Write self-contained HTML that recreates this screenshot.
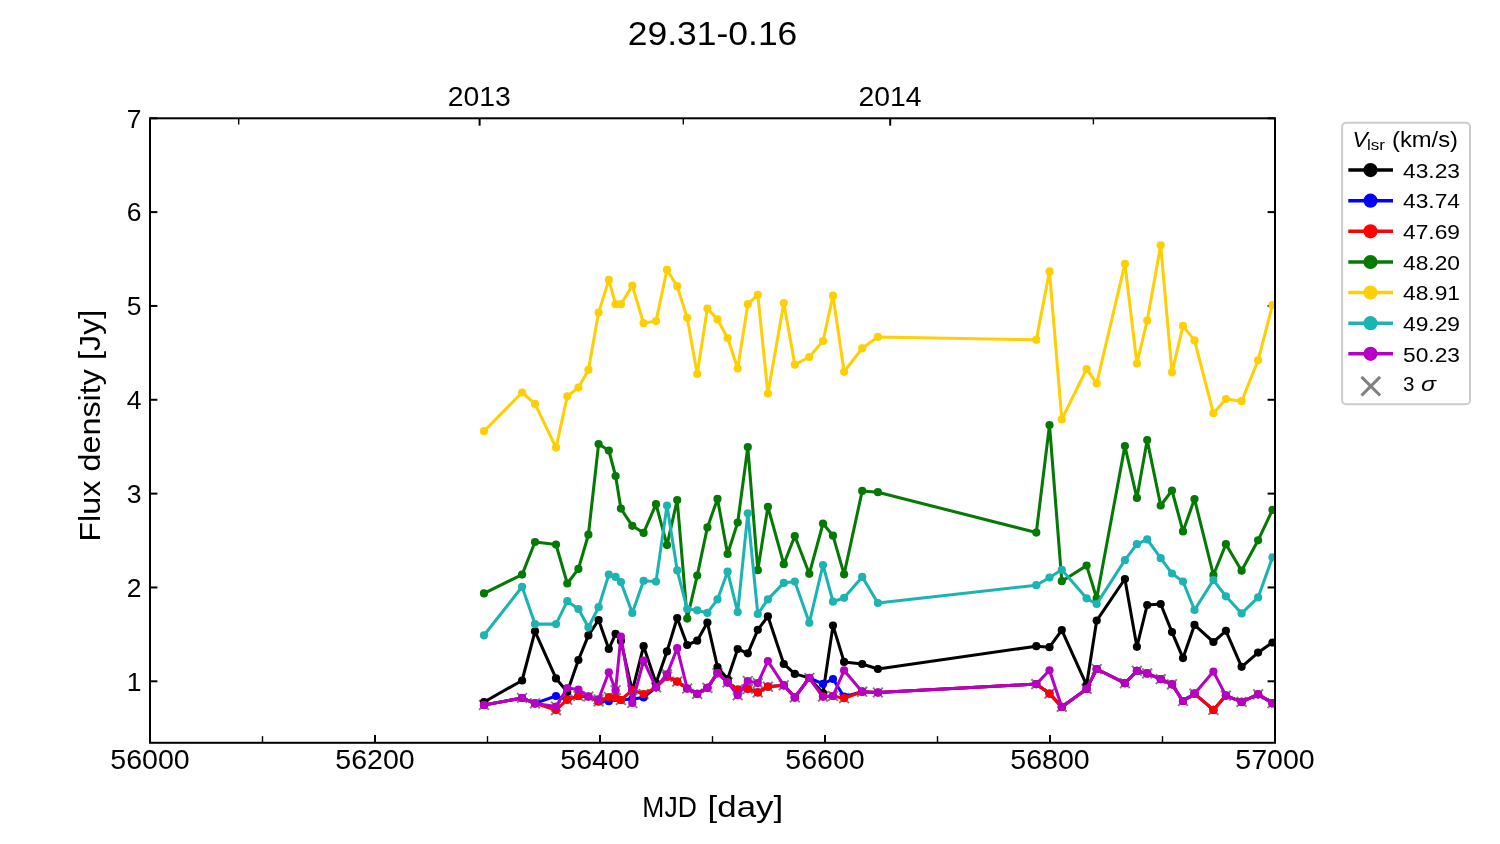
<!DOCTYPE html>
<html><head><meta charset="utf-8"><style>
html,body{margin:0;padding:0;background:#fff;}
svg{display:block;will-change:transform;}
</style></head><body>
<svg width="1500" height="844" viewBox="0 0 1500 844">
<rect x="0" y="0" width="1500" height="844" fill="#fff"/>
<defs><clipPath id="ax"><rect x="150" y="118.3" width="1125" height="624.5"/></clipPath></defs>
<line x1="150.00" y1="742.8" x2="150.00" y2="734.9" stroke="#000" stroke-width="2.0"/><line x1="262.50" y1="742.8" x2="262.50" y2="736.0999999999999" stroke="#000" stroke-width="1.4"/><line x1="375.00" y1="742.8" x2="375.00" y2="734.9" stroke="#000" stroke-width="2.0"/><line x1="487.50" y1="742.8" x2="487.50" y2="736.0999999999999" stroke="#000" stroke-width="1.4"/><line x1="600.00" y1="742.8" x2="600.00" y2="734.9" stroke="#000" stroke-width="2.0"/><line x1="712.50" y1="742.8" x2="712.50" y2="736.0999999999999" stroke="#000" stroke-width="1.4"/><line x1="825.00" y1="742.8" x2="825.00" y2="734.9" stroke="#000" stroke-width="2.0"/><line x1="937.50" y1="742.8" x2="937.50" y2="736.0999999999999" stroke="#000" stroke-width="1.4"/><line x1="1050.00" y1="742.8" x2="1050.00" y2="734.9" stroke="#000" stroke-width="2.0"/><line x1="1162.50" y1="742.8" x2="1162.50" y2="736.0999999999999" stroke="#000" stroke-width="1.4"/><line x1="1275.00" y1="742.8" x2="1275.00" y2="734.9" stroke="#000" stroke-width="2.0"/><line x1="238.70" y1="118.3" x2="238.70" y2="124.39999999999999" stroke="#000" stroke-width="1.4"/><line x1="479.60" y1="118.3" x2="479.60" y2="125.7" stroke="#000" stroke-width="2.0"/><line x1="683.30" y1="118.3" x2="683.30" y2="124.39999999999999" stroke="#000" stroke-width="1.4"/><line x1="890.20" y1="118.3" x2="890.20" y2="125.7" stroke="#000" stroke-width="2.0"/><line x1="1093.40" y1="118.3" x2="1093.40" y2="124.39999999999999" stroke="#000" stroke-width="1.4"/><line x1="150" y1="681.30" x2="157.4" y2="681.30" stroke="#000" stroke-width="2.0"/><line x1="1275" y1="681.30" x2="1267.6" y2="681.30" stroke="#000" stroke-width="2.0"/><line x1="150" y1="587.46" x2="157.4" y2="587.46" stroke="#000" stroke-width="2.0"/><line x1="1275" y1="587.46" x2="1267.6" y2="587.46" stroke="#000" stroke-width="2.0"/><line x1="150" y1="493.62" x2="157.4" y2="493.62" stroke="#000" stroke-width="2.0"/><line x1="1275" y1="493.62" x2="1267.6" y2="493.62" stroke="#000" stroke-width="2.0"/><line x1="150" y1="399.78" x2="157.4" y2="399.78" stroke="#000" stroke-width="2.0"/><line x1="1275" y1="399.78" x2="1267.6" y2="399.78" stroke="#000" stroke-width="2.0"/><line x1="150" y1="305.94" x2="157.4" y2="305.94" stroke="#000" stroke-width="2.0"/><line x1="1275" y1="305.94" x2="1267.6" y2="305.94" stroke="#000" stroke-width="2.0"/><line x1="150" y1="212.10" x2="157.4" y2="212.10" stroke="#000" stroke-width="2.0"/><line x1="1275" y1="212.10" x2="1267.6" y2="212.10" stroke="#000" stroke-width="2.0"/><line x1="150" y1="118.26" x2="157.4" y2="118.26" stroke="#000" stroke-width="2.0"/><line x1="1275" y1="118.26" x2="1267.6" y2="118.26" stroke="#000" stroke-width="2.0"/>
<g clip-path="url(#ax)"><path d="M479.1,700.1L488.9,709.9M479.1,709.9L488.9,700.1" stroke="#808080" stroke-width="2.0" fill="none"/><path d="M517.2,693.1L527.0,702.9M517.2,702.9L527.0,693.1" stroke="#808080" stroke-width="2.0" fill="none"/><path d="M530.1,698.5L539.9,708.3M530.1,708.3L539.9,698.5" stroke="#808080" stroke-width="2.0" fill="none"/><path d="M551.1,701.6L560.9,711.4M551.1,711.4L560.9,701.6" stroke="#808080" stroke-width="2.0" fill="none"/><path d="M551.1,705.2L560.9,715.0M551.1,715.0L560.9,705.2" stroke="#808080" stroke-width="2.0" fill="none"/><path d="M562.4,694.8L572.2,704.6M562.4,704.6L572.2,694.8" stroke="#808080" stroke-width="2.0" fill="none"/><path d="M573.5,691.1L583.3,700.9M573.5,700.9L583.3,691.1" stroke="#808080" stroke-width="2.0" fill="none"/><path d="M583.5,691.6L593.3,701.4M583.5,701.4L593.3,691.6" stroke="#808080" stroke-width="2.0" fill="none"/><path d="M593.7,694.4L603.5,704.2M593.7,704.2L603.5,694.4" stroke="#808080" stroke-width="2.0" fill="none"/><path d="M593.7,696.6L603.5,706.4M593.7,706.4L603.5,696.6" stroke="#808080" stroke-width="2.0" fill="none"/><path d="M603.9,692.1L613.7,701.9M603.9,701.9L613.7,692.1" stroke="#808080" stroke-width="2.0" fill="none"/><path d="M610.7,685.4L620.5,695.2M610.7,695.2L620.5,685.4" stroke="#808080" stroke-width="2.0" fill="none"/><path d="M610.7,693.1L620.5,702.9M610.7,702.9L620.5,693.1" stroke="#808080" stroke-width="2.0" fill="none"/><path d="M616.0,695.1L625.8,704.9M616.0,704.9L625.8,695.1" stroke="#808080" stroke-width="2.0" fill="none"/><path d="M627.4,698.1L637.2,707.9M627.4,707.9L637.2,698.1" stroke="#808080" stroke-width="2.0" fill="none"/><path d="M627.4,685.1L637.2,694.9M627.4,694.9L637.2,685.1" stroke="#808080" stroke-width="2.0" fill="none"/><path d="M638.7,689.1L648.5,698.9M638.7,698.9L648.5,689.1" stroke="#808080" stroke-width="2.0" fill="none"/><path d="M651.1,682.4L660.9,692.2M651.1,692.2L660.9,682.4" stroke="#808080" stroke-width="2.0" fill="none"/><path d="M662.1,669.5L671.9,679.3M662.1,679.3L671.9,669.5" stroke="#808080" stroke-width="2.0" fill="none"/><path d="M662.1,671.8L671.9,681.6M662.1,681.6L671.9,671.8" stroke="#808080" stroke-width="2.0" fill="none"/><path d="M672.3,676.7L682.1,686.5M672.3,686.5L682.1,676.7" stroke="#808080" stroke-width="2.0" fill="none"/><path d="M682.3,683.6L692.1,693.4M682.3,693.4L692.1,683.6" stroke="#808080" stroke-width="2.0" fill="none"/><path d="M692.3,688.9L702.1,698.7M692.3,698.7L702.1,688.9" stroke="#808080" stroke-width="2.0" fill="none"/><path d="M702.5,682.9L712.3,692.7M702.5,692.7L712.3,682.9" stroke="#808080" stroke-width="2.0" fill="none"/><path d="M712.6,668.3L722.4,678.1M712.6,678.1L722.4,668.3" stroke="#808080" stroke-width="2.0" fill="none"/><path d="M722.7,677.5L732.5,687.3M722.7,687.3L732.5,677.5" stroke="#808080" stroke-width="2.0" fill="none"/><path d="M732.8,690.3L742.6,700.1M732.8,700.1L742.6,690.3" stroke="#808080" stroke-width="2.0" fill="none"/><path d="M732.8,684.6L742.6,694.4M732.8,694.4L742.6,684.6" stroke="#808080" stroke-width="2.0" fill="none"/><path d="M742.9,676.1L752.7,685.9M742.9,685.9L752.7,676.1" stroke="#808080" stroke-width="2.0" fill="none"/><path d="M742.9,683.9L752.7,693.7M742.9,693.7L752.7,683.9" stroke="#808080" stroke-width="2.0" fill="none"/><path d="M752.9,678.2L762.7,688.0M752.9,688.0L762.7,678.2" stroke="#808080" stroke-width="2.0" fill="none"/><path d="M752.9,687.5L762.7,697.3M752.9,697.3L762.7,687.5" stroke="#808080" stroke-width="2.0" fill="none"/><path d="M763.0,681.8L772.8,691.6M763.0,691.6L772.8,681.8" stroke="#808080" stroke-width="2.0" fill="none"/><path d="M778.9,680.4L788.7,690.2M778.9,690.2L788.7,680.4" stroke="#808080" stroke-width="2.0" fill="none"/><path d="M789.9,692.5L799.7,702.3M789.9,702.3L799.7,692.5" stroke="#808080" stroke-width="2.0" fill="none"/><path d="M804.4,673.1L814.2,682.9M804.4,682.9L814.2,673.1" stroke="#808080" stroke-width="2.0" fill="none"/><path d="M818.1,691.7L827.9,701.5M818.1,701.5L827.9,691.7" stroke="#808080" stroke-width="2.0" fill="none"/><path d="M828.1,691.1L837.9,700.9M828.1,700.9L837.9,691.1" stroke="#808080" stroke-width="2.0" fill="none"/><path d="M839.2,693.3L849.0,703.1M839.2,703.1L849.0,693.3" stroke="#808080" stroke-width="2.0" fill="none"/><path d="M857.3,686.8L867.1,696.6M857.3,696.6L867.1,686.8" stroke="#808080" stroke-width="2.0" fill="none"/><path d="M873.0,687.6L882.8,697.4M873.0,697.4L882.8,687.6" stroke="#808080" stroke-width="2.0" fill="none"/><path d="M1031.4,679.2L1041.2,689.0M1031.4,689.0L1041.2,679.2" stroke="#808080" stroke-width="2.0" fill="none"/><path d="M1044.6,688.7L1054.4,698.5M1044.6,698.5L1054.4,688.7" stroke="#808080" stroke-width="2.0" fill="none"/><path d="M1056.9,702.0L1066.7,711.8M1056.9,711.8L1066.7,702.0" stroke="#808080" stroke-width="2.0" fill="none"/><path d="M1081.7,684.0L1091.5,693.8M1081.7,693.8L1091.5,684.0" stroke="#808080" stroke-width="2.0" fill="none"/><path d="M1091.8,664.1L1101.6,673.9M1091.8,673.9L1101.6,664.1" stroke="#808080" stroke-width="2.0" fill="none"/><path d="M1120.0,678.3L1129.8,688.1M1120.0,688.1L1129.8,678.3" stroke="#808080" stroke-width="2.0" fill="none"/><path d="M1132.0,666.0L1141.8,675.8M1132.0,675.8L1141.8,666.0" stroke="#808080" stroke-width="2.0" fill="none"/><path d="M1142.3,668.5L1152.1,678.3M1142.3,678.3L1152.1,668.5" stroke="#808080" stroke-width="2.0" fill="none"/><path d="M1155.8,674.2L1165.6,684.0M1155.8,684.0L1165.6,674.2" stroke="#808080" stroke-width="2.0" fill="none"/><path d="M1167.1,679.4L1176.9,689.2M1167.1,689.2L1176.9,679.4" stroke="#808080" stroke-width="2.0" fill="none"/><path d="M1178.1,696.1L1187.9,705.9M1178.1,705.9L1187.9,696.1" stroke="#808080" stroke-width="2.0" fill="none"/><path d="M1189.6,688.8L1199.4,698.6M1189.6,698.6L1199.4,688.8" stroke="#808080" stroke-width="2.0" fill="none"/><path d="M1208.5,705.0L1218.3,714.8M1208.5,714.8L1218.3,705.0" stroke="#808080" stroke-width="2.0" fill="none"/><path d="M1221.0,690.7L1230.8,700.5M1221.0,700.5L1230.8,690.7" stroke="#808080" stroke-width="2.0" fill="none"/><path d="M1236.7,697.0L1246.5,706.8M1236.7,706.8L1246.5,697.0" stroke="#808080" stroke-width="2.0" fill="none"/><path d="M1253.2,689.4L1263.0,699.2M1253.2,699.2L1263.0,689.4" stroke="#808080" stroke-width="2.0" fill="none"/><path d="M1267.6,698.3L1277.4,708.1M1267.6,708.1L1277.4,698.3" stroke="#808080" stroke-width="2.0" fill="none"/><polyline points="484.0,702.0 522.1,680.5 535.0,631.3 556.0,678.4 567.3,692.0 578.4,660.0 588.4,635.4 598.6,620.0 608.8,649.0 615.6,633.8 620.9,641.0 632.3,691.0 643.6,646.2 656.0,683.0 667.0,651.4 677.2,618.0 687.2,645.0 697.2,640.7 707.4,622.6 717.5,667.0 727.6,679.0 737.7,649.0 747.8,653.3 757.8,629.8 767.9,616.3 783.8,664.0 794.8,673.9 809.3,677.9 823.0,693.0 833.0,625.6 844.1,661.9 862.2,664.0 877.9,669.0 1036.3,646.2 1049.5,647.2 1061.8,630.1 1086.6,685.1 1096.7,620.6 1124.9,579.0 1136.9,646.8 1147.2,605.0 1160.7,604.0 1172.0,632.1 1183.0,658.1 1194.5,624.9 1213.4,642.0 1225.9,630.8 1241.6,666.8 1258.1,652.6 1272.5,642.5" fill="none" stroke="#000000" stroke-width="3.05" stroke-linejoin="round" stroke-linecap="square"/><circle cx="484.0" cy="702.0" r="4.1" fill="#000000"/><circle cx="522.1" cy="680.5" r="4.1" fill="#000000"/><circle cx="535.0" cy="631.3" r="4.1" fill="#000000"/><circle cx="556.0" cy="678.4" r="4.1" fill="#000000"/><circle cx="567.3" cy="692.0" r="4.1" fill="#000000"/><circle cx="578.4" cy="660.0" r="4.1" fill="#000000"/><circle cx="588.4" cy="635.4" r="4.1" fill="#000000"/><circle cx="598.6" cy="620.0" r="4.1" fill="#000000"/><circle cx="608.8" cy="649.0" r="4.1" fill="#000000"/><circle cx="615.6" cy="633.8" r="4.1" fill="#000000"/><circle cx="620.9" cy="641.0" r="4.1" fill="#000000"/><circle cx="632.3" cy="691.0" r="4.1" fill="#000000"/><circle cx="643.6" cy="646.2" r="4.1" fill="#000000"/><circle cx="656.0" cy="683.0" r="4.1" fill="#000000"/><circle cx="667.0" cy="651.4" r="4.1" fill="#000000"/><circle cx="677.2" cy="618.0" r="4.1" fill="#000000"/><circle cx="687.2" cy="645.0" r="4.1" fill="#000000"/><circle cx="697.2" cy="640.7" r="4.1" fill="#000000"/><circle cx="707.4" cy="622.6" r="4.1" fill="#000000"/><circle cx="717.5" cy="667.0" r="4.1" fill="#000000"/><circle cx="727.6" cy="679.0" r="4.1" fill="#000000"/><circle cx="737.7" cy="649.0" r="4.1" fill="#000000"/><circle cx="747.8" cy="653.3" r="4.1" fill="#000000"/><circle cx="757.8" cy="629.8" r="4.1" fill="#000000"/><circle cx="767.9" cy="616.3" r="4.1" fill="#000000"/><circle cx="783.8" cy="664.0" r="4.1" fill="#000000"/><circle cx="794.8" cy="673.9" r="4.1" fill="#000000"/><circle cx="809.3" cy="677.9" r="4.1" fill="#000000"/><circle cx="823.0" cy="693.0" r="4.1" fill="#000000"/><circle cx="833.0" cy="625.6" r="4.1" fill="#000000"/><circle cx="844.1" cy="661.9" r="4.1" fill="#000000"/><circle cx="862.2" cy="664.0" r="4.1" fill="#000000"/><circle cx="877.9" cy="669.0" r="4.1" fill="#000000"/><circle cx="1036.3" cy="646.2" r="4.1" fill="#000000"/><circle cx="1049.5" cy="647.2" r="4.1" fill="#000000"/><circle cx="1061.8" cy="630.1" r="4.1" fill="#000000"/><circle cx="1086.6" cy="685.1" r="4.1" fill="#000000"/><circle cx="1096.7" cy="620.6" r="4.1" fill="#000000"/><circle cx="1124.9" cy="579.0" r="4.1" fill="#000000"/><circle cx="1136.9" cy="646.8" r="4.1" fill="#000000"/><circle cx="1147.2" cy="605.0" r="4.1" fill="#000000"/><circle cx="1160.7" cy="604.0" r="4.1" fill="#000000"/><circle cx="1172.0" cy="632.1" r="4.1" fill="#000000"/><circle cx="1183.0" cy="658.1" r="4.1" fill="#000000"/><circle cx="1194.5" cy="624.9" r="4.1" fill="#000000"/><circle cx="1213.4" cy="642.0" r="4.1" fill="#000000"/><circle cx="1225.9" cy="630.8" r="4.1" fill="#000000"/><circle cx="1241.6" cy="666.8" r="4.1" fill="#000000"/><circle cx="1258.1" cy="652.6" r="4.1" fill="#000000"/><circle cx="1272.5" cy="642.5" r="4.1" fill="#000000"/><polyline points="484.0,705.0 522.1,698.0 535.0,703.4 556.0,696.0 567.3,699.7 578.4,696.0 588.4,696.5 598.6,701.5 608.8,701.2 615.6,698.0 620.9,700.0 632.3,699.0 643.6,697.5 656.0,687.3 667.0,676.7 677.2,681.6 687.2,688.5 697.2,693.8 707.4,687.8 717.5,673.2 727.6,682.4 737.7,689.5 747.8,688.8 757.8,692.4 767.9,686.7 783.8,685.3 794.8,697.4 809.3,678.0 823.0,683.9 833.0,679.0 844.1,696.7 862.2,691.7 877.9,692.5 1036.3,684.1 1049.5,693.6 1061.8,706.9 1086.6,688.9 1096.7,669.0 1124.9,683.2 1136.9,670.9 1147.2,673.4 1160.7,679.1 1172.0,684.3 1183.0,701.0 1194.5,693.7 1213.4,709.9 1225.9,695.6 1241.6,701.9 1258.1,694.3 1272.5,703.2" fill="none" stroke="#0000ff" stroke-width="3.05" stroke-linejoin="round" stroke-linecap="square"/><circle cx="484.0" cy="705.0" r="4.1" fill="#0000ff"/><circle cx="522.1" cy="698.0" r="4.1" fill="#0000ff"/><circle cx="535.0" cy="703.4" r="4.1" fill="#0000ff"/><circle cx="556.0" cy="696.0" r="4.1" fill="#0000ff"/><circle cx="567.3" cy="699.7" r="4.1" fill="#0000ff"/><circle cx="578.4" cy="696.0" r="4.1" fill="#0000ff"/><circle cx="588.4" cy="696.5" r="4.1" fill="#0000ff"/><circle cx="598.6" cy="701.5" r="4.1" fill="#0000ff"/><circle cx="608.8" cy="701.2" r="4.1" fill="#0000ff"/><circle cx="615.6" cy="698.0" r="4.1" fill="#0000ff"/><circle cx="620.9" cy="700.0" r="4.1" fill="#0000ff"/><circle cx="632.3" cy="699.0" r="4.1" fill="#0000ff"/><circle cx="643.6" cy="697.5" r="4.1" fill="#0000ff"/><circle cx="656.0" cy="687.3" r="4.1" fill="#0000ff"/><circle cx="667.0" cy="676.7" r="4.1" fill="#0000ff"/><circle cx="677.2" cy="681.6" r="4.1" fill="#0000ff"/><circle cx="687.2" cy="688.5" r="4.1" fill="#0000ff"/><circle cx="697.2" cy="693.8" r="4.1" fill="#0000ff"/><circle cx="707.4" cy="687.8" r="4.1" fill="#0000ff"/><circle cx="717.5" cy="673.2" r="4.1" fill="#0000ff"/><circle cx="727.6" cy="682.4" r="4.1" fill="#0000ff"/><circle cx="737.7" cy="689.5" r="4.1" fill="#0000ff"/><circle cx="747.8" cy="688.8" r="4.1" fill="#0000ff"/><circle cx="757.8" cy="692.4" r="4.1" fill="#0000ff"/><circle cx="767.9" cy="686.7" r="4.1" fill="#0000ff"/><circle cx="783.8" cy="685.3" r="4.1" fill="#0000ff"/><circle cx="794.8" cy="697.4" r="4.1" fill="#0000ff"/><circle cx="809.3" cy="678.0" r="4.1" fill="#0000ff"/><circle cx="823.0" cy="683.9" r="4.1" fill="#0000ff"/><circle cx="833.0" cy="679.0" r="4.1" fill="#0000ff"/><circle cx="844.1" cy="696.7" r="4.1" fill="#0000ff"/><circle cx="862.2" cy="691.7" r="4.1" fill="#0000ff"/><circle cx="877.9" cy="692.5" r="4.1" fill="#0000ff"/><circle cx="1036.3" cy="684.1" r="4.1" fill="#0000ff"/><circle cx="1049.5" cy="693.6" r="4.1" fill="#0000ff"/><circle cx="1061.8" cy="706.9" r="4.1" fill="#0000ff"/><circle cx="1086.6" cy="688.9" r="4.1" fill="#0000ff"/><circle cx="1096.7" cy="669.0" r="4.1" fill="#0000ff"/><circle cx="1124.9" cy="683.2" r="4.1" fill="#0000ff"/><circle cx="1136.9" cy="670.9" r="4.1" fill="#0000ff"/><circle cx="1147.2" cy="673.4" r="4.1" fill="#0000ff"/><circle cx="1160.7" cy="679.1" r="4.1" fill="#0000ff"/><circle cx="1172.0" cy="684.3" r="4.1" fill="#0000ff"/><circle cx="1183.0" cy="701.0" r="4.1" fill="#0000ff"/><circle cx="1194.5" cy="693.7" r="4.1" fill="#0000ff"/><circle cx="1213.4" cy="709.9" r="4.1" fill="#0000ff"/><circle cx="1225.9" cy="695.6" r="4.1" fill="#0000ff"/><circle cx="1241.6" cy="701.9" r="4.1" fill="#0000ff"/><circle cx="1258.1" cy="694.3" r="4.1" fill="#0000ff"/><circle cx="1272.5" cy="703.2" r="4.1" fill="#0000ff"/><polyline points="484.0,705.0 522.1,698.0 535.0,703.4 556.0,710.1 567.3,699.7 578.4,696.0 588.4,696.5 598.6,701.5 608.8,697.0 615.6,698.0 620.9,700.0 632.3,690.0 643.6,694.0 656.0,687.3 667.0,676.7 677.2,681.6 687.2,688.5 697.2,693.8 707.4,687.8 717.5,673.2 727.6,682.4 737.7,689.5 747.8,688.8 757.8,692.4 767.9,686.7 783.8,685.3 794.8,697.4 809.3,678.0 823.0,696.6 833.0,696.0 844.1,698.2 862.2,691.7 877.9,692.5 1036.3,684.1 1049.5,693.6 1061.8,706.9 1086.6,688.9 1096.7,669.0 1124.9,683.2 1136.9,670.9 1147.2,673.4 1160.7,679.1 1172.0,684.3 1183.0,701.0 1194.5,693.7 1213.4,709.9 1225.9,695.6 1241.6,701.9 1258.1,694.3 1272.5,703.2" fill="none" stroke="#ff0000" stroke-width="3.05" stroke-linejoin="round" stroke-linecap="square"/><circle cx="484.0" cy="705.0" r="4.1" fill="#ff0000"/><circle cx="522.1" cy="698.0" r="4.1" fill="#ff0000"/><circle cx="535.0" cy="703.4" r="4.1" fill="#ff0000"/><circle cx="556.0" cy="710.1" r="4.1" fill="#ff0000"/><circle cx="567.3" cy="699.7" r="4.1" fill="#ff0000"/><circle cx="578.4" cy="696.0" r="4.1" fill="#ff0000"/><circle cx="588.4" cy="696.5" r="4.1" fill="#ff0000"/><circle cx="598.6" cy="701.5" r="4.1" fill="#ff0000"/><circle cx="608.8" cy="697.0" r="4.1" fill="#ff0000"/><circle cx="615.6" cy="698.0" r="4.1" fill="#ff0000"/><circle cx="620.9" cy="700.0" r="4.1" fill="#ff0000"/><circle cx="632.3" cy="690.0" r="4.1" fill="#ff0000"/><circle cx="643.6" cy="694.0" r="4.1" fill="#ff0000"/><circle cx="656.0" cy="687.3" r="4.1" fill="#ff0000"/><circle cx="667.0" cy="676.7" r="4.1" fill="#ff0000"/><circle cx="677.2" cy="681.6" r="4.1" fill="#ff0000"/><circle cx="687.2" cy="688.5" r="4.1" fill="#ff0000"/><circle cx="697.2" cy="693.8" r="4.1" fill="#ff0000"/><circle cx="707.4" cy="687.8" r="4.1" fill="#ff0000"/><circle cx="717.5" cy="673.2" r="4.1" fill="#ff0000"/><circle cx="727.6" cy="682.4" r="4.1" fill="#ff0000"/><circle cx="737.7" cy="689.5" r="4.1" fill="#ff0000"/><circle cx="747.8" cy="688.8" r="4.1" fill="#ff0000"/><circle cx="757.8" cy="692.4" r="4.1" fill="#ff0000"/><circle cx="767.9" cy="686.7" r="4.1" fill="#ff0000"/><circle cx="783.8" cy="685.3" r="4.1" fill="#ff0000"/><circle cx="794.8" cy="697.4" r="4.1" fill="#ff0000"/><circle cx="809.3" cy="678.0" r="4.1" fill="#ff0000"/><circle cx="823.0" cy="696.6" r="4.1" fill="#ff0000"/><circle cx="833.0" cy="696.0" r="4.1" fill="#ff0000"/><circle cx="844.1" cy="698.2" r="4.1" fill="#ff0000"/><circle cx="862.2" cy="691.7" r="4.1" fill="#ff0000"/><circle cx="877.9" cy="692.5" r="4.1" fill="#ff0000"/><circle cx="1036.3" cy="684.1" r="4.1" fill="#ff0000"/><circle cx="1049.5" cy="693.6" r="4.1" fill="#ff0000"/><circle cx="1061.8" cy="706.9" r="4.1" fill="#ff0000"/><circle cx="1086.6" cy="688.9" r="4.1" fill="#ff0000"/><circle cx="1096.7" cy="669.0" r="4.1" fill="#ff0000"/><circle cx="1124.9" cy="683.2" r="4.1" fill="#ff0000"/><circle cx="1136.9" cy="670.9" r="4.1" fill="#ff0000"/><circle cx="1147.2" cy="673.4" r="4.1" fill="#ff0000"/><circle cx="1160.7" cy="679.1" r="4.1" fill="#ff0000"/><circle cx="1172.0" cy="684.3" r="4.1" fill="#ff0000"/><circle cx="1183.0" cy="701.0" r="4.1" fill="#ff0000"/><circle cx="1194.5" cy="693.7" r="4.1" fill="#ff0000"/><circle cx="1213.4" cy="709.9" r="4.1" fill="#ff0000"/><circle cx="1225.9" cy="695.6" r="4.1" fill="#ff0000"/><circle cx="1241.6" cy="701.9" r="4.1" fill="#ff0000"/><circle cx="1258.1" cy="694.3" r="4.1" fill="#ff0000"/><circle cx="1272.5" cy="703.2" r="4.1" fill="#ff0000"/><polyline points="484.0,593.4 522.1,574.6 535.0,542.0 556.0,544.6 567.3,583.5 578.4,568.9 588.4,534.7 598.6,444.0 608.8,450.5 615.6,476.0 620.9,508.6 632.3,525.8 643.6,532.9 656.0,504.2 667.0,545.1 677.2,500.0 687.2,618.6 697.2,575.6 707.4,527.4 717.5,498.9 727.6,554.0 737.7,522.5 747.8,447.1 757.8,570.2 767.9,506.8 783.8,564.2 794.8,536.0 809.3,573.8 823.0,523.5 833.0,535.7 844.1,574.3 862.2,490.9 877.9,492.2 1036.3,532.6 1049.5,425.0 1061.8,581.2 1086.6,565.6 1096.7,598.3 1124.9,446.1 1136.9,497.9 1147.2,440.1 1160.7,505.5 1172.0,490.5 1183.0,531.4 1194.5,499.0 1213.4,575.0 1225.9,544.2 1241.6,570.7 1258.1,540.3 1272.5,509.8" fill="none" stroke="#047a04" stroke-width="3.05" stroke-linejoin="round" stroke-linecap="square"/><circle cx="484.0" cy="593.4" r="4.1" fill="#047a04"/><circle cx="522.1" cy="574.6" r="4.1" fill="#047a04"/><circle cx="535.0" cy="542.0" r="4.1" fill="#047a04"/><circle cx="556.0" cy="544.6" r="4.1" fill="#047a04"/><circle cx="567.3" cy="583.5" r="4.1" fill="#047a04"/><circle cx="578.4" cy="568.9" r="4.1" fill="#047a04"/><circle cx="588.4" cy="534.7" r="4.1" fill="#047a04"/><circle cx="598.6" cy="444.0" r="4.1" fill="#047a04"/><circle cx="608.8" cy="450.5" r="4.1" fill="#047a04"/><circle cx="615.6" cy="476.0" r="4.1" fill="#047a04"/><circle cx="620.9" cy="508.6" r="4.1" fill="#047a04"/><circle cx="632.3" cy="525.8" r="4.1" fill="#047a04"/><circle cx="643.6" cy="532.9" r="4.1" fill="#047a04"/><circle cx="656.0" cy="504.2" r="4.1" fill="#047a04"/><circle cx="667.0" cy="545.1" r="4.1" fill="#047a04"/><circle cx="677.2" cy="500.0" r="4.1" fill="#047a04"/><circle cx="687.2" cy="618.6" r="4.1" fill="#047a04"/><circle cx="697.2" cy="575.6" r="4.1" fill="#047a04"/><circle cx="707.4" cy="527.4" r="4.1" fill="#047a04"/><circle cx="717.5" cy="498.9" r="4.1" fill="#047a04"/><circle cx="727.6" cy="554.0" r="4.1" fill="#047a04"/><circle cx="737.7" cy="522.5" r="4.1" fill="#047a04"/><circle cx="747.8" cy="447.1" r="4.1" fill="#047a04"/><circle cx="757.8" cy="570.2" r="4.1" fill="#047a04"/><circle cx="767.9" cy="506.8" r="4.1" fill="#047a04"/><circle cx="783.8" cy="564.2" r="4.1" fill="#047a04"/><circle cx="794.8" cy="536.0" r="4.1" fill="#047a04"/><circle cx="809.3" cy="573.8" r="4.1" fill="#047a04"/><circle cx="823.0" cy="523.5" r="4.1" fill="#047a04"/><circle cx="833.0" cy="535.7" r="4.1" fill="#047a04"/><circle cx="844.1" cy="574.3" r="4.1" fill="#047a04"/><circle cx="862.2" cy="490.9" r="4.1" fill="#047a04"/><circle cx="877.9" cy="492.2" r="4.1" fill="#047a04"/><circle cx="1036.3" cy="532.6" r="4.1" fill="#047a04"/><circle cx="1049.5" cy="425.0" r="4.1" fill="#047a04"/><circle cx="1061.8" cy="581.2" r="4.1" fill="#047a04"/><circle cx="1086.6" cy="565.6" r="4.1" fill="#047a04"/><circle cx="1096.7" cy="598.3" r="4.1" fill="#047a04"/><circle cx="1124.9" cy="446.1" r="4.1" fill="#047a04"/><circle cx="1136.9" cy="497.9" r="4.1" fill="#047a04"/><circle cx="1147.2" cy="440.1" r="4.1" fill="#047a04"/><circle cx="1160.7" cy="505.5" r="4.1" fill="#047a04"/><circle cx="1172.0" cy="490.5" r="4.1" fill="#047a04"/><circle cx="1183.0" cy="531.4" r="4.1" fill="#047a04"/><circle cx="1194.5" cy="499.0" r="4.1" fill="#047a04"/><circle cx="1213.4" cy="575.0" r="4.1" fill="#047a04"/><circle cx="1225.9" cy="544.2" r="4.1" fill="#047a04"/><circle cx="1241.6" cy="570.7" r="4.1" fill="#047a04"/><circle cx="1258.1" cy="540.3" r="4.1" fill="#047a04"/><circle cx="1272.5" cy="509.8" r="4.1" fill="#047a04"/><polyline points="484.0,431.2 522.1,392.5 535.0,403.9 556.0,447.6 567.3,396.3 578.4,387.6 588.4,369.9 598.6,312.6 608.8,279.9 615.6,304.2 620.9,304.2 632.3,285.6 643.6,323.2 656.0,321.1 667.0,269.8 677.2,286.2 687.2,317.8 697.2,374.0 707.4,308.5 717.5,319.4 727.6,338.0 737.7,368.5 747.8,304.2 757.8,294.9 767.9,393.6 783.8,303.1 794.8,364.7 809.3,357.0 823.0,341.0 833.0,295.7 844.1,371.8 862.2,348.3 877.9,336.9 1036.3,339.8 1049.5,271.4 1061.8,419.4 1086.6,369.0 1096.7,383.4 1124.9,263.8 1136.9,363.5 1147.2,320.5 1160.7,245.3 1172.0,372.3 1183.0,325.9 1194.5,340.4 1213.4,413.2 1225.9,399.0 1241.6,401.2 1258.1,360.3 1272.5,305.0" fill="none" stroke="#ffcf05" stroke-width="3.05" stroke-linejoin="round" stroke-linecap="square"/><circle cx="484.0" cy="431.2" r="4.1" fill="#ffcf05"/><circle cx="522.1" cy="392.5" r="4.1" fill="#ffcf05"/><circle cx="535.0" cy="403.9" r="4.1" fill="#ffcf05"/><circle cx="556.0" cy="447.6" r="4.1" fill="#ffcf05"/><circle cx="567.3" cy="396.3" r="4.1" fill="#ffcf05"/><circle cx="578.4" cy="387.6" r="4.1" fill="#ffcf05"/><circle cx="588.4" cy="369.9" r="4.1" fill="#ffcf05"/><circle cx="598.6" cy="312.6" r="4.1" fill="#ffcf05"/><circle cx="608.8" cy="279.9" r="4.1" fill="#ffcf05"/><circle cx="615.6" cy="304.2" r="4.1" fill="#ffcf05"/><circle cx="620.9" cy="304.2" r="4.1" fill="#ffcf05"/><circle cx="632.3" cy="285.6" r="4.1" fill="#ffcf05"/><circle cx="643.6" cy="323.2" r="4.1" fill="#ffcf05"/><circle cx="656.0" cy="321.1" r="4.1" fill="#ffcf05"/><circle cx="667.0" cy="269.8" r="4.1" fill="#ffcf05"/><circle cx="677.2" cy="286.2" r="4.1" fill="#ffcf05"/><circle cx="687.2" cy="317.8" r="4.1" fill="#ffcf05"/><circle cx="697.2" cy="374.0" r="4.1" fill="#ffcf05"/><circle cx="707.4" cy="308.5" r="4.1" fill="#ffcf05"/><circle cx="717.5" cy="319.4" r="4.1" fill="#ffcf05"/><circle cx="727.6" cy="338.0" r="4.1" fill="#ffcf05"/><circle cx="737.7" cy="368.5" r="4.1" fill="#ffcf05"/><circle cx="747.8" cy="304.2" r="4.1" fill="#ffcf05"/><circle cx="757.8" cy="294.9" r="4.1" fill="#ffcf05"/><circle cx="767.9" cy="393.6" r="4.1" fill="#ffcf05"/><circle cx="783.8" cy="303.1" r="4.1" fill="#ffcf05"/><circle cx="794.8" cy="364.7" r="4.1" fill="#ffcf05"/><circle cx="809.3" cy="357.0" r="4.1" fill="#ffcf05"/><circle cx="823.0" cy="341.0" r="4.1" fill="#ffcf05"/><circle cx="833.0" cy="295.7" r="4.1" fill="#ffcf05"/><circle cx="844.1" cy="371.8" r="4.1" fill="#ffcf05"/><circle cx="862.2" cy="348.3" r="4.1" fill="#ffcf05"/><circle cx="877.9" cy="336.9" r="4.1" fill="#ffcf05"/><circle cx="1036.3" cy="339.8" r="4.1" fill="#ffcf05"/><circle cx="1049.5" cy="271.4" r="4.1" fill="#ffcf05"/><circle cx="1061.8" cy="419.4" r="4.1" fill="#ffcf05"/><circle cx="1086.6" cy="369.0" r="4.1" fill="#ffcf05"/><circle cx="1096.7" cy="383.4" r="4.1" fill="#ffcf05"/><circle cx="1124.9" cy="263.8" r="4.1" fill="#ffcf05"/><circle cx="1136.9" cy="363.5" r="4.1" fill="#ffcf05"/><circle cx="1147.2" cy="320.5" r="4.1" fill="#ffcf05"/><circle cx="1160.7" cy="245.3" r="4.1" fill="#ffcf05"/><circle cx="1172.0" cy="372.3" r="4.1" fill="#ffcf05"/><circle cx="1183.0" cy="325.9" r="4.1" fill="#ffcf05"/><circle cx="1194.5" cy="340.4" r="4.1" fill="#ffcf05"/><circle cx="1213.4" cy="413.2" r="4.1" fill="#ffcf05"/><circle cx="1225.9" cy="399.0" r="4.1" fill="#ffcf05"/><circle cx="1241.6" cy="401.2" r="4.1" fill="#ffcf05"/><circle cx="1258.1" cy="360.3" r="4.1" fill="#ffcf05"/><circle cx="1272.5" cy="305.0" r="4.1" fill="#ffcf05"/><polyline points="484.0,635.3 522.1,586.8 535.0,624.1 556.0,624.1 567.3,601.2 578.4,609.0 588.4,627.2 598.6,607.2 608.8,574.6 615.6,576.9 620.9,582.1 632.3,612.9 643.6,580.8 656.0,581.6 667.0,505.5 677.2,570.4 687.2,609.0 697.2,610.3 707.4,612.9 717.5,599.4 727.6,571.7 737.7,612.1 747.8,513.3 757.8,614.0 767.9,599.4 783.8,582.9 794.8,581.6 809.3,622.8 823.0,565.0 833.0,601.7 844.1,597.8 862.2,576.9 877.9,603.0 1036.3,585.2 1049.5,577.5 1061.8,569.8 1086.6,598.3 1096.7,604.0 1124.9,560.2 1136.9,544.2 1147.2,539.4 1160.7,558.2 1172.0,573.5 1183.0,581.5 1194.5,610.0 1213.4,580.1 1225.9,596.3 1241.6,613.4 1258.1,597.4 1272.5,557.3" fill="none" stroke="#1db3b3" stroke-width="3.05" stroke-linejoin="round" stroke-linecap="square"/><circle cx="484.0" cy="635.3" r="4.1" fill="#1db3b3"/><circle cx="522.1" cy="586.8" r="4.1" fill="#1db3b3"/><circle cx="535.0" cy="624.1" r="4.1" fill="#1db3b3"/><circle cx="556.0" cy="624.1" r="4.1" fill="#1db3b3"/><circle cx="567.3" cy="601.2" r="4.1" fill="#1db3b3"/><circle cx="578.4" cy="609.0" r="4.1" fill="#1db3b3"/><circle cx="588.4" cy="627.2" r="4.1" fill="#1db3b3"/><circle cx="598.6" cy="607.2" r="4.1" fill="#1db3b3"/><circle cx="608.8" cy="574.6" r="4.1" fill="#1db3b3"/><circle cx="615.6" cy="576.9" r="4.1" fill="#1db3b3"/><circle cx="620.9" cy="582.1" r="4.1" fill="#1db3b3"/><circle cx="632.3" cy="612.9" r="4.1" fill="#1db3b3"/><circle cx="643.6" cy="580.8" r="4.1" fill="#1db3b3"/><circle cx="656.0" cy="581.6" r="4.1" fill="#1db3b3"/><circle cx="667.0" cy="505.5" r="4.1" fill="#1db3b3"/><circle cx="677.2" cy="570.4" r="4.1" fill="#1db3b3"/><circle cx="687.2" cy="609.0" r="4.1" fill="#1db3b3"/><circle cx="697.2" cy="610.3" r="4.1" fill="#1db3b3"/><circle cx="707.4" cy="612.9" r="4.1" fill="#1db3b3"/><circle cx="717.5" cy="599.4" r="4.1" fill="#1db3b3"/><circle cx="727.6" cy="571.7" r="4.1" fill="#1db3b3"/><circle cx="737.7" cy="612.1" r="4.1" fill="#1db3b3"/><circle cx="747.8" cy="513.3" r="4.1" fill="#1db3b3"/><circle cx="757.8" cy="614.0" r="4.1" fill="#1db3b3"/><circle cx="767.9" cy="599.4" r="4.1" fill="#1db3b3"/><circle cx="783.8" cy="582.9" r="4.1" fill="#1db3b3"/><circle cx="794.8" cy="581.6" r="4.1" fill="#1db3b3"/><circle cx="809.3" cy="622.8" r="4.1" fill="#1db3b3"/><circle cx="823.0" cy="565.0" r="4.1" fill="#1db3b3"/><circle cx="833.0" cy="601.7" r="4.1" fill="#1db3b3"/><circle cx="844.1" cy="597.8" r="4.1" fill="#1db3b3"/><circle cx="862.2" cy="576.9" r="4.1" fill="#1db3b3"/><circle cx="877.9" cy="603.0" r="4.1" fill="#1db3b3"/><circle cx="1036.3" cy="585.2" r="4.1" fill="#1db3b3"/><circle cx="1049.5" cy="577.5" r="4.1" fill="#1db3b3"/><circle cx="1061.8" cy="569.8" r="4.1" fill="#1db3b3"/><circle cx="1086.6" cy="598.3" r="4.1" fill="#1db3b3"/><circle cx="1096.7" cy="604.0" r="4.1" fill="#1db3b3"/><circle cx="1124.9" cy="560.2" r="4.1" fill="#1db3b3"/><circle cx="1136.9" cy="544.2" r="4.1" fill="#1db3b3"/><circle cx="1147.2" cy="539.4" r="4.1" fill="#1db3b3"/><circle cx="1160.7" cy="558.2" r="4.1" fill="#1db3b3"/><circle cx="1172.0" cy="573.5" r="4.1" fill="#1db3b3"/><circle cx="1183.0" cy="581.5" r="4.1" fill="#1db3b3"/><circle cx="1194.5" cy="610.0" r="4.1" fill="#1db3b3"/><circle cx="1213.4" cy="580.1" r="4.1" fill="#1db3b3"/><circle cx="1225.9" cy="596.3" r="4.1" fill="#1db3b3"/><circle cx="1241.6" cy="613.4" r="4.1" fill="#1db3b3"/><circle cx="1258.1" cy="597.4" r="4.1" fill="#1db3b3"/><circle cx="1272.5" cy="557.3" r="4.1" fill="#1db3b3"/><polyline points="484.0,705.0 522.1,698.0 535.0,703.4 556.0,706.5 567.3,688.0 578.4,689.5 588.4,696.5 598.6,699.3 608.8,672.3 615.6,690.3 620.9,636.6 632.3,703.0 643.6,660.5 656.0,687.3 667.0,674.4 677.2,648.2 687.2,688.5 697.2,693.8 707.4,687.8 717.5,673.2 727.6,682.4 737.7,695.2 747.8,681.0 757.8,683.1 767.9,661.1 783.8,685.3 794.8,697.4 809.3,678.0 823.0,696.6 833.0,696.0 844.1,670.4 862.2,691.7 877.9,692.5 1036.3,684.1 1049.5,670.3 1061.8,706.9 1086.6,688.9 1096.7,669.0 1124.9,683.2 1136.9,670.9 1147.2,673.4 1160.7,679.1 1172.0,684.3 1183.0,701.0 1194.5,693.7 1213.4,671.6 1225.9,695.6 1241.6,701.9 1258.1,694.3 1272.5,703.2" fill="none" stroke="#b600c4" stroke-width="3.05" stroke-linejoin="round" stroke-linecap="square"/><circle cx="484.0" cy="705.0" r="4.1" fill="#b600c4"/><circle cx="522.1" cy="698.0" r="4.1" fill="#b600c4"/><circle cx="535.0" cy="703.4" r="4.1" fill="#b600c4"/><circle cx="556.0" cy="706.5" r="4.1" fill="#b600c4"/><circle cx="567.3" cy="688.0" r="4.1" fill="#b600c4"/><circle cx="578.4" cy="689.5" r="4.1" fill="#b600c4"/><circle cx="588.4" cy="696.5" r="4.1" fill="#b600c4"/><circle cx="598.6" cy="699.3" r="4.1" fill="#b600c4"/><circle cx="608.8" cy="672.3" r="4.1" fill="#b600c4"/><circle cx="615.6" cy="690.3" r="4.1" fill="#b600c4"/><circle cx="620.9" cy="636.6" r="4.1" fill="#b600c4"/><circle cx="632.3" cy="703.0" r="4.1" fill="#b600c4"/><circle cx="643.6" cy="660.5" r="4.1" fill="#b600c4"/><circle cx="656.0" cy="687.3" r="4.1" fill="#b600c4"/><circle cx="667.0" cy="674.4" r="4.1" fill="#b600c4"/><circle cx="677.2" cy="648.2" r="4.1" fill="#b600c4"/><circle cx="687.2" cy="688.5" r="4.1" fill="#b600c4"/><circle cx="697.2" cy="693.8" r="4.1" fill="#b600c4"/><circle cx="707.4" cy="687.8" r="4.1" fill="#b600c4"/><circle cx="717.5" cy="673.2" r="4.1" fill="#b600c4"/><circle cx="727.6" cy="682.4" r="4.1" fill="#b600c4"/><circle cx="737.7" cy="695.2" r="4.1" fill="#b600c4"/><circle cx="747.8" cy="681.0" r="4.1" fill="#b600c4"/><circle cx="757.8" cy="683.1" r="4.1" fill="#b600c4"/><circle cx="767.9" cy="661.1" r="4.1" fill="#b600c4"/><circle cx="783.8" cy="685.3" r="4.1" fill="#b600c4"/><circle cx="794.8" cy="697.4" r="4.1" fill="#b600c4"/><circle cx="809.3" cy="678.0" r="4.1" fill="#b600c4"/><circle cx="823.0" cy="696.6" r="4.1" fill="#b600c4"/><circle cx="833.0" cy="696.0" r="4.1" fill="#b600c4"/><circle cx="844.1" cy="670.4" r="4.1" fill="#b600c4"/><circle cx="862.2" cy="691.7" r="4.1" fill="#b600c4"/><circle cx="877.9" cy="692.5" r="4.1" fill="#b600c4"/><circle cx="1036.3" cy="684.1" r="4.1" fill="#b600c4"/><circle cx="1049.5" cy="670.3" r="4.1" fill="#b600c4"/><circle cx="1061.8" cy="706.9" r="4.1" fill="#b600c4"/><circle cx="1086.6" cy="688.9" r="4.1" fill="#b600c4"/><circle cx="1096.7" cy="669.0" r="4.1" fill="#b600c4"/><circle cx="1124.9" cy="683.2" r="4.1" fill="#b600c4"/><circle cx="1136.9" cy="670.9" r="4.1" fill="#b600c4"/><circle cx="1147.2" cy="673.4" r="4.1" fill="#b600c4"/><circle cx="1160.7" cy="679.1" r="4.1" fill="#b600c4"/><circle cx="1172.0" cy="684.3" r="4.1" fill="#b600c4"/><circle cx="1183.0" cy="701.0" r="4.1" fill="#b600c4"/><circle cx="1194.5" cy="693.7" r="4.1" fill="#b600c4"/><circle cx="1213.4" cy="671.6" r="4.1" fill="#b600c4"/><circle cx="1225.9" cy="695.6" r="4.1" fill="#b600c4"/><circle cx="1241.6" cy="701.9" r="4.1" fill="#b600c4"/><circle cx="1258.1" cy="694.3" r="4.1" fill="#b600c4"/><circle cx="1272.5" cy="703.2" r="4.1" fill="#b600c4"/></g>
<rect x="150" y="118.3" width="1125" height="624.5" fill="none" stroke="#000" stroke-width="2"/>
<text x="712.6" y="45.3" font-family="Liberation Sans, sans-serif" font-size="33" text-anchor="middle" textLength="169.5" lengthAdjust="spacingAndGlyphs">29.31-0.16</text><text x="479.3" y="106.1" font-family="Liberation Sans, sans-serif" font-size="27" text-anchor="middle" textLength="63" lengthAdjust="spacingAndGlyphs">2013</text><text x="890.0" y="106.1" font-family="Liberation Sans, sans-serif" font-size="27" text-anchor="middle" textLength="63" lengthAdjust="spacingAndGlyphs">2014</text><text x="150.0" y="769.3" font-family="Liberation Sans, sans-serif" font-size="27" text-anchor="middle" textLength="79.5" lengthAdjust="spacingAndGlyphs">56000</text><text x="375.0" y="769.3" font-family="Liberation Sans, sans-serif" font-size="27" text-anchor="middle" textLength="79.5" lengthAdjust="spacingAndGlyphs">56200</text><text x="600.0" y="769.3" font-family="Liberation Sans, sans-serif" font-size="27" text-anchor="middle" textLength="79.5" lengthAdjust="spacingAndGlyphs">56400</text><text x="825.0" y="769.3" font-family="Liberation Sans, sans-serif" font-size="27" text-anchor="middle" textLength="79.5" lengthAdjust="spacingAndGlyphs">56600</text><text x="1050.0" y="769.3" font-family="Liberation Sans, sans-serif" font-size="27" text-anchor="middle" textLength="79.5" lengthAdjust="spacingAndGlyphs">56800</text><text x="1275.0" y="769.3" font-family="Liberation Sans, sans-serif" font-size="27" text-anchor="middle" textLength="79.5" lengthAdjust="spacingAndGlyphs">57000</text><text x="141.5" y="690.5" font-family="Liberation Sans, sans-serif" font-size="26.5" text-anchor="end">1</text><text x="141.5" y="596.7" font-family="Liberation Sans, sans-serif" font-size="26.5" text-anchor="end">2</text><text x="141.5" y="502.8" font-family="Liberation Sans, sans-serif" font-size="26.5" text-anchor="end">3</text><text x="141.5" y="409.0" font-family="Liberation Sans, sans-serif" font-size="26.5" text-anchor="end">4</text><text x="141.5" y="315.1" font-family="Liberation Sans, sans-serif" font-size="26.5" text-anchor="end">5</text><text x="141.5" y="221.3" font-family="Liberation Sans, sans-serif" font-size="26.5" text-anchor="end">6</text><text x="141.5" y="127.5" font-family="Liberation Sans, sans-serif" font-size="26.5" text-anchor="end">7</text><text x="642.3" y="816.8" font-family="Liberation Sans, sans-serif" font-size="29" textLength="54.5" lengthAdjust="spacingAndGlyphs">MJD</text><text x="707.6" y="816.8" font-family="Liberation Sans, sans-serif" font-size="29" textLength="75.5" lengthAdjust="spacingAndGlyphs">[day]</text><text transform="translate(100,425.7) rotate(-90)" x="0" y="0" font-family="Liberation Sans, sans-serif" font-size="29" text-anchor="middle" textLength="232" lengthAdjust="spacingAndGlyphs">Flux density [Jy]</text>
<rect x="1342.1" y="122.7" width="127.9" height="281.5" rx="4" ry="4" fill="#fff" fill-opacity="0.8" stroke="#cccccc" stroke-width="2"/><text x="1352.5" y="146.8" font-family="Liberation Sans, sans-serif" font-size="22.8" font-style="italic">V</text><text x="1367" y="150" font-family="Liberation Sans, sans-serif" font-size="15" textLength="18" lengthAdjust="spacingAndGlyphs">lsr</text><text x="1392" y="146.7" font-family="Liberation Sans, sans-serif" font-size="22.2" textLength="66" lengthAdjust="spacingAndGlyphs">(km/s)</text><line x1="1348.3" y1="170.1" x2="1393" y2="170.1" stroke="#000000" stroke-width="3.5"/><circle cx="1370.5" cy="170.1" r="7.1" fill="#000000"/><text x="1403" y="177.8" font-family="Liberation Sans, sans-serif" font-size="20" textLength="57" lengthAdjust="spacingAndGlyphs">43.23</text><line x1="1348.3" y1="200.7" x2="1393" y2="200.7" stroke="#0000ff" stroke-width="3.5"/><circle cx="1370.5" cy="200.7" r="7.1" fill="#0000ff"/><text x="1403" y="208.4" font-family="Liberation Sans, sans-serif" font-size="20" textLength="57" lengthAdjust="spacingAndGlyphs">43.74</text><line x1="1348.3" y1="231.3" x2="1393" y2="231.3" stroke="#ff0000" stroke-width="3.5"/><circle cx="1370.5" cy="231.3" r="7.1" fill="#ff0000"/><text x="1403" y="239.0" font-family="Liberation Sans, sans-serif" font-size="20" textLength="57" lengthAdjust="spacingAndGlyphs">47.69</text><line x1="1348.3" y1="262.0" x2="1393" y2="262.0" stroke="#047a04" stroke-width="3.5"/><circle cx="1370.5" cy="262.0" r="7.1" fill="#047a04"/><text x="1403" y="269.7" font-family="Liberation Sans, sans-serif" font-size="20" textLength="57" lengthAdjust="spacingAndGlyphs">48.20</text><line x1="1348.3" y1="292.6" x2="1393" y2="292.6" stroke="#ffcf05" stroke-width="3.5"/><circle cx="1370.5" cy="292.6" r="7.1" fill="#ffcf05"/><text x="1403" y="300.3" font-family="Liberation Sans, sans-serif" font-size="20" textLength="57" lengthAdjust="spacingAndGlyphs">48.91</text><line x1="1348.3" y1="323.2" x2="1393" y2="323.2" stroke="#1db3b3" stroke-width="3.5"/><circle cx="1370.5" cy="323.2" r="7.1" fill="#1db3b3"/><text x="1403" y="330.9" font-family="Liberation Sans, sans-serif" font-size="20" textLength="57" lengthAdjust="spacingAndGlyphs">49.29</text><line x1="1348.3" y1="353.8" x2="1393" y2="353.8" stroke="#b600c4" stroke-width="3.5"/><circle cx="1370.5" cy="353.8" r="7.1" fill="#b600c4"/><text x="1403" y="361.5" font-family="Liberation Sans, sans-serif" font-size="20" textLength="57" lengthAdjust="spacingAndGlyphs">50.23</text><path d="M1361.5,376.9L1380.1,395.5M1361.5,395.5L1380.1,376.9" stroke="#808080" stroke-width="3.0" fill="none"/><text x="1403" y="391.4" font-family="Liberation Sans, sans-serif" font-size="20.5">3</text><text x="1421" y="391.4" font-family="Liberation Sans, sans-serif" font-size="21" font-style="italic" textLength="15" lengthAdjust="spacingAndGlyphs">σ</text>
</svg>
</body></html>
